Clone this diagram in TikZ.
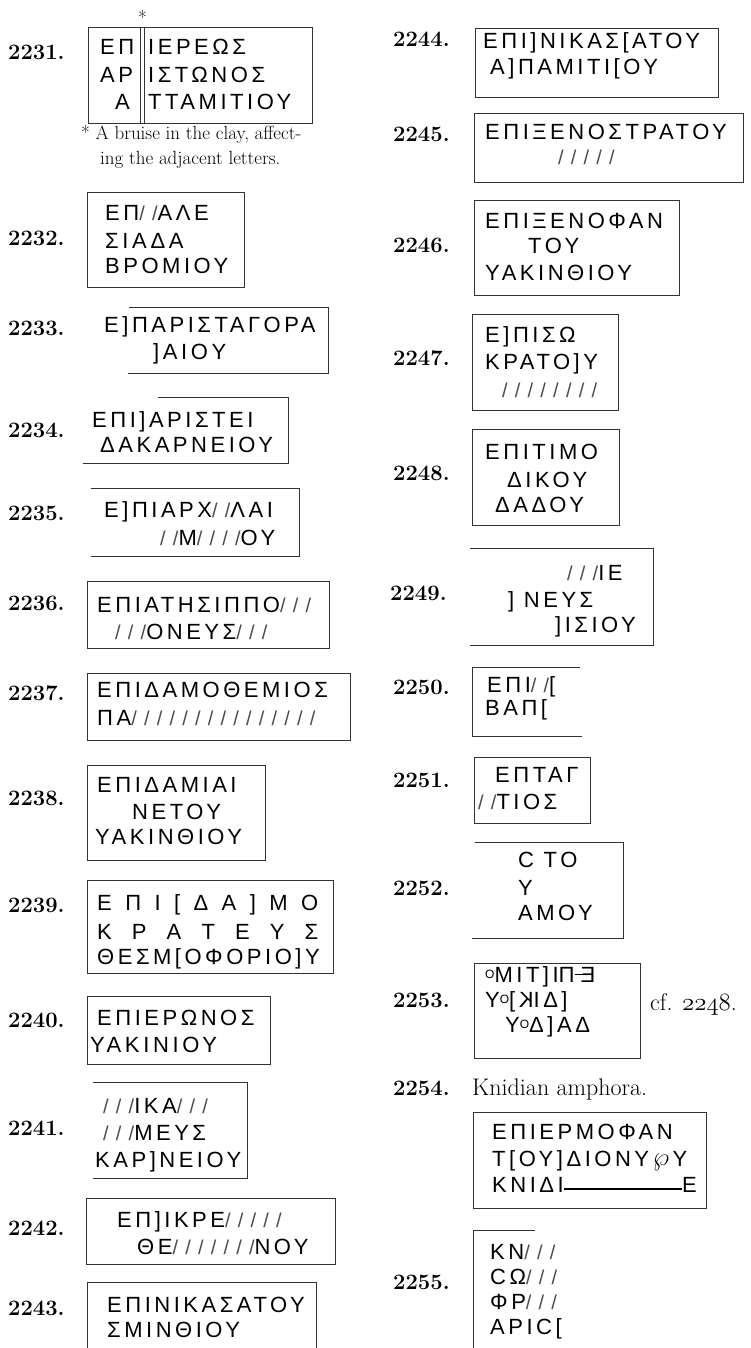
\documentclass[tikz,border=0pt]{standalone}
\usepackage{fontspec}
\usepackage{graphicx}
\newfontfamily\greekfont[LetterSpace=16]{Liberation Sans}
\newfontfamily\lostfont[LetterSpace=36]{Liberation Sans}
\newcommand{\lost}[1]{{\color{black!70}\lostfont\fontsize{20}{20}\selectfont #1}}
\newcommand{\smallo}{\raisebox{4pt}{\fontsize{12}{12}\selectfont O}}

\begin{document}
\begin{tikzpicture}[x=1pt,y=-1pt,
    num/.style={anchor=base west,inner sep=0pt,font=\fontsize{22}{22}\selectfont\bfseries},
    txt/.style={anchor=base west,inner sep=0pt,font=\greekfont\fontsize{22}{22}\selectfont},
    note/.style={anchor=base west,inner sep=0pt,font=\fontsize{19}{19}\selectfont},
    stampbox/.style={draw=black!80,line width=0.7pt}]
    \fill[white] (0,0) rectangle (750,1348);
    \useasboundingbox (0,0) rectangle (750,1348);

    % 2231
    \node[num] (n2231) at (8,60) {2231.};
    \draw[stampbox] (88,27) rectangle (312,123);
    \draw[stampbox] (140,27) -- (140,123) (144,27) -- (144,123);
    \node[note] (star) at (138,25) {*};
    \node[txt] (a1) at (100,55) {ΕΠ};
    \node[txt] (a2) at (148,55) {ΙΕΡΕΩΣ};
    \node[txt] (a3) at (100,83) {ΑΡ};
    \node[txt] (a4) at (148,83) {ΙΣΤΩΝΟΣ};
    \node[txt] (a5) at (115,110) {Α};
    \node[txt] (a6) at (148,110) {ΤΤΑΜΙΤΙΟΥ};
    \node[note] (c1) at (81,140) {* A bruise in the clay, affect-};
    \node[note] (c2) at (100,165) {ing the adjacent letters.};

    % 2232
    \node[num] (n2232) at (8,245) {2232.};
    \draw[stampbox] (87,192) rectangle (244,287);
    \node[txt] (b1) at (105,221) {ΕΠ\lost{//}ΑΛΕ};
    \node[txt] (b2) at (105,248) {Σ\,Ι\,Α\,Δ\,Α};
    \node[txt] (b3) at (105,273) {ΒΡΟΜΙΟΥ};

    % 2233
    \node[num] (n2233) at (8,335) {2233.};
    \draw[stampbox] (129,307) -- (328,307) -- (328,373) -- (128,373);
    \node[txt] (d1) at (104,332) {Ε]ΠΑΡΙΣΤΑΓΟΡΑ};
    \node[txt] (d2) at (153,359) {]Α\,Ι\,Ο\,Υ};

    % 2234
    \node[num] (n2234) at (8,437) {2234.};
    \draw[stampbox] (158,397) -- (288,397) -- (288,463) -- (83,463);
    \node[txt] (e1) at (92,427) {ΕΠΙ]ΑΡΙΣΤΕΙ};
    \node[txt] (e2) at (100,452) {ΔΑΚΑΡΝΕΙΟΥ};

    % 2235
    \node[num] (n2235) at (8,520) {2235.};
    \draw[stampbox] (91,488) -- (299,488) -- (299,556) -- (91,556);
    \node[txt] (f1) at (104,517) {Ε]ΠΙΑΡΧ\lost{//}ΛΑΙ};
    \node[txt] (f2) at (160,545) {\lost{//}Μ\lost{////}ΟΥ};

    % 2236
    \node[num] (n2236) at (8,610) {2236.};
    \draw[stampbox] (87,581) rectangle (329,648);
    \node[txt] (g1) at (97,612) {ΕΠΙΑΤΗΣΙΠΠΟ\lost{///}};
    \node[txt] (g2) at (115,639) {\lost{///}ΟΝΕΥΣ\lost{///}};

    % 2237
    \node[num] (n2237) at (8,700) {2237.};
    \draw[stampbox] (87,673) rectangle (350,740);
    \node[txt] (h1) at (97,697) {ΕΠΙΔΑΜΟΘΕΜΙΟΣ};
    \node[txt] (h2) at (97,725) {ΠΑ\lost{///////////////}};

    % 2238
    \node[num] (n2238) at (8,805) {2238.};
    \draw[stampbox] (87,765) rectangle (265,860);
    \node[txt] (i1) at (97,792) {ΕΠΙΔΑΜΙΑΙ};
    \node[txt] (i2) at (132,819) {ΝΕΤΟΥ};
    \node[txt] (i3) at (95,844) {ΥΑΚΙΝΘΙΟΥ};

    % 2239
    \node[num] (n2239) at (8,912) {2239.};
    \draw[stampbox] (87,880) rectangle (333,973);
    \node[txt] (j1) at (97,910) {\makebox[221pt][s]{Ε\hfil Π\hfil Ι\hfil [\hfil Δ\hfil Α\hfil ]\hfil Μ\hfil Ο}};
    \node[txt] (j2) at (97,939) {\makebox[221pt][s]{Κ\hfil Ρ\hfil Α\hfil Τ\hfil Ε\hfil Υ\hfil Σ}};
    \node[txt] (j3) at (97,964) {ΘΕΣΜ[ΟΦΟΡΙΟ]Υ};

    % 2240
    \node[num] (n2240) at (8,1027) {2240.};
    \draw[stampbox] (87,996) rectangle (270,1064);
    \node[txt] (k1) at (97,1025) {ΕΠΙΕΡΩΝΟΣ};
    \node[txt] (k2) at (90,1052) {ΥΑΚ\,Ι\,Ν\,Ι\,ΟΥ};

    % 2241
    \node[num] (n2241) at (8,1135) {2241.};
    \draw[stampbox] (93,1082) -- (247,1082) -- (247,1178) -- (93,1178);
    \node[txt] (l1) at (103,1113) {\lost{///}ΙΚΑ\lost{///}};
    \node[txt] (l2) at (103,1140) {\lost{///}ΜΕΥΣ};
    \node[txt] (l3) at (95,1167) {ΚΑΡ]ΝΕΙΟΥ};

    % 2242
    \node[num] (n2242) at (8,1235) {2242.};
    \draw[stampbox] (86,1198) rectangle (335,1264);
    \node[txt] (m1) at (117,1227) {ΕΠ]ΙΚΡΕ\lost{/////}};
    \node[txt] (m2) at (137,1254) {ΘΕ\lost{///////}ΝΟΥ};

    % 2243
    \node[num] (n2243) at (8,1315) {2243.};
    \draw[stampbox] (87,1348) -- (87,1282) -- (316,1282) -- (316,1348);
    \node[txt] (o1) at (107,1312) {ΕΠΙΝΙΚΑΣΑΤΟΥ};
    \node[txt] (o2) at (107,1337) {ΣΜΙΝΘΙΟΥ};

    % 2244
    \node[num] (n2244) at (393,47) {2244.};
    \draw[stampbox] (475,28) rectangle (718,97);
    \node[txt] (p1) at (483,49) {ΕΠΙ]ΝΙΚΑΣ[ΑΤΟΥ};
    \node[txt] (p2) at (490,75) {Α]ΠΑΜΙΤΙ[ΟΥ};

    % 2245
    \node[num] (n2245) at (393,142) {2245.};
    \draw[stampbox] (474,113) rectangle (743,182);
    \node[txt] (q1) at (485,140) {ΕΠΙΞΕΝΟΣΤΡΑΤΟΥ};
    \node[txt] (q2) at (558,165) {\lost{/////}};

    % 2246
    \node[num] (n2246) at (393,252) {2246.};
    \draw[stampbox] (474,200) rectangle (679,295);
    \node[txt] (r1) at (485,229) {ΕΠΙΞΕΝΟΦΑΝ};
    \node[txt] (r2) at (528,254) {ΤΟΥ};
    \node[txt] (r3) at (485,280) {ΥΑΚΙΝΘΙΟΥ};

    % 2247
    \node[num] (n2247) at (393,365) {2247.};
    \draw[stampbox] (472,314) rectangle (618,410);
    \node[txt] (s1) at (485,342) {Ε]ΠΙΣΩ};
    \node[txt] (s2) at (485,369) {ΚΡΑΤΟ]Υ};
    \node[txt] (s3) at (502,397) {\lost{////////}};

    % 2248
    \node[num] (n2248) at (393,480) {2248.};
    \draw[stampbox] (472,429) rectangle (619,525);
    \node[txt] (t1) at (485,459) {ΕΠΙΤΙΜΟ};
    \node[txt] (t2) at (507,487) {ΔΙΚΟΥ};
    \node[txt] (t3) at (495,512) {ΔΑΔΟΥ};

    % 2249
    \node[num] (n2249) at (390,600) {2249.};
    \draw[stampbox] (470,548) -- (653,548) -- (653,645) -- (470,645);
    \node[txt] (u1) at (567,580) {\lost{///}ΙΕ};
    \node[txt] (u2) at (508,607) {] ΝΕΥΣ};
    \node[txt] (u3) at (555,632) {]ΙΣΙΟΥ};

    % 2250
    \node[num] (n2250) at (393,694) {2250.};
    \draw[stampbox] (580,667) -- (472,667) -- (472,736) -- (582,736);
    \node[txt] (v1) at (487,692) {ΕΠΙ\lost{//}[};
    \node[txt] (v2) at (485,715) {ΒΑΠ[};

    % 2251
    \node[num] (n2251) at (393,787) {2251.};
    \draw[stampbox] (474,757) rectangle (590,823);
    \node[txt] (w1) at (495,782) {ΕΠΤΑΓ};
    \node[txt] (w2) at (478,809) {\lost{//}ΤΙΟΣ};

    % 2252
    \node[num] (n2252) at (393,895) {2252.};
    \draw[stampbox] (475,842) -- (623,842) -- (623,938) -- (472,938);
    \node[txt] (x1) at (518,867) {C ΤΟ};
    \node[txt] (x2) at (518,895) {Υ};
    \node[txt] (x3) at (518,920) {ΑΜΟΥ};

    % 2253
    \node[num] (n2253) at (393,1007) {2253.};
    \draw[stampbox] (474,963) rectangle (640,1058);
    \node[txt] (y1) at (485,982) {\smallo ΜΙΤ]Ι\reflectbox{Π}\rule[7pt]{9pt}{1.2pt}\kern-3pt\reflectbox{Ε}};
    \node[txt] (y2) at (485,1007) {Υ\smallo[\,\reflectbox{Κ}ΙΔ]};
    \node[txt] (y3) at (505,1032) {Υ\smallo Δ]ΑΔ};
    \node[note,font=\fontsize{24}{24}\selectfont] (cf) at (650,1010) {cf. {\usefont{OML}{cmm}{m}{it}2248}.};

    % 2254
    \node[num] (n2254) at (393,1095) {2254.};
    \node[note,font=\fontsize{24}{24}\selectfont] (knid) at (472,1095) {Knidian amphora.};
    \draw[stampbox] (473,1112) rectangle (706,1208);
    \node[txt] (z1) at (492,1139) {ΕΠΙΕΡΜΟΦΑΝ};
    \node[txt] (z2) at (492,1166) {Τ[ΟΥ]ΔΙΟΝΥ\,\raisebox{1pt}{\scalebox{1.25}{$\wp$}}\,Υ};
    \node[txt] (z3) at (492,1192) {ΚΝΙΔΙ};
    \node[txt] (z4) at (682,1192) {Ε};
    \draw[line width=1.2pt] ([yshift=3pt]z3.base east) -- ([yshift=3pt]z4.base west);

    % 2255
    \node[num] (n2255) at (393,1289) {2255.};
    \draw[stampbox] (535,1230) -- (473,1230) -- (473,1348);
    \node[txt] (zz1) at (490,1259) {ΚΝ\lost{///}};
    \node[txt] (zz2) at (490,1284) {CΩ\lost{///}};
    \node[txt] (zz3) at (490,1309) {ΦΡ\lost{///}};
    \node[txt] (zz4) at (490,1334) {ΑΡΙC[};
\end{tikzpicture}
\end{document}
